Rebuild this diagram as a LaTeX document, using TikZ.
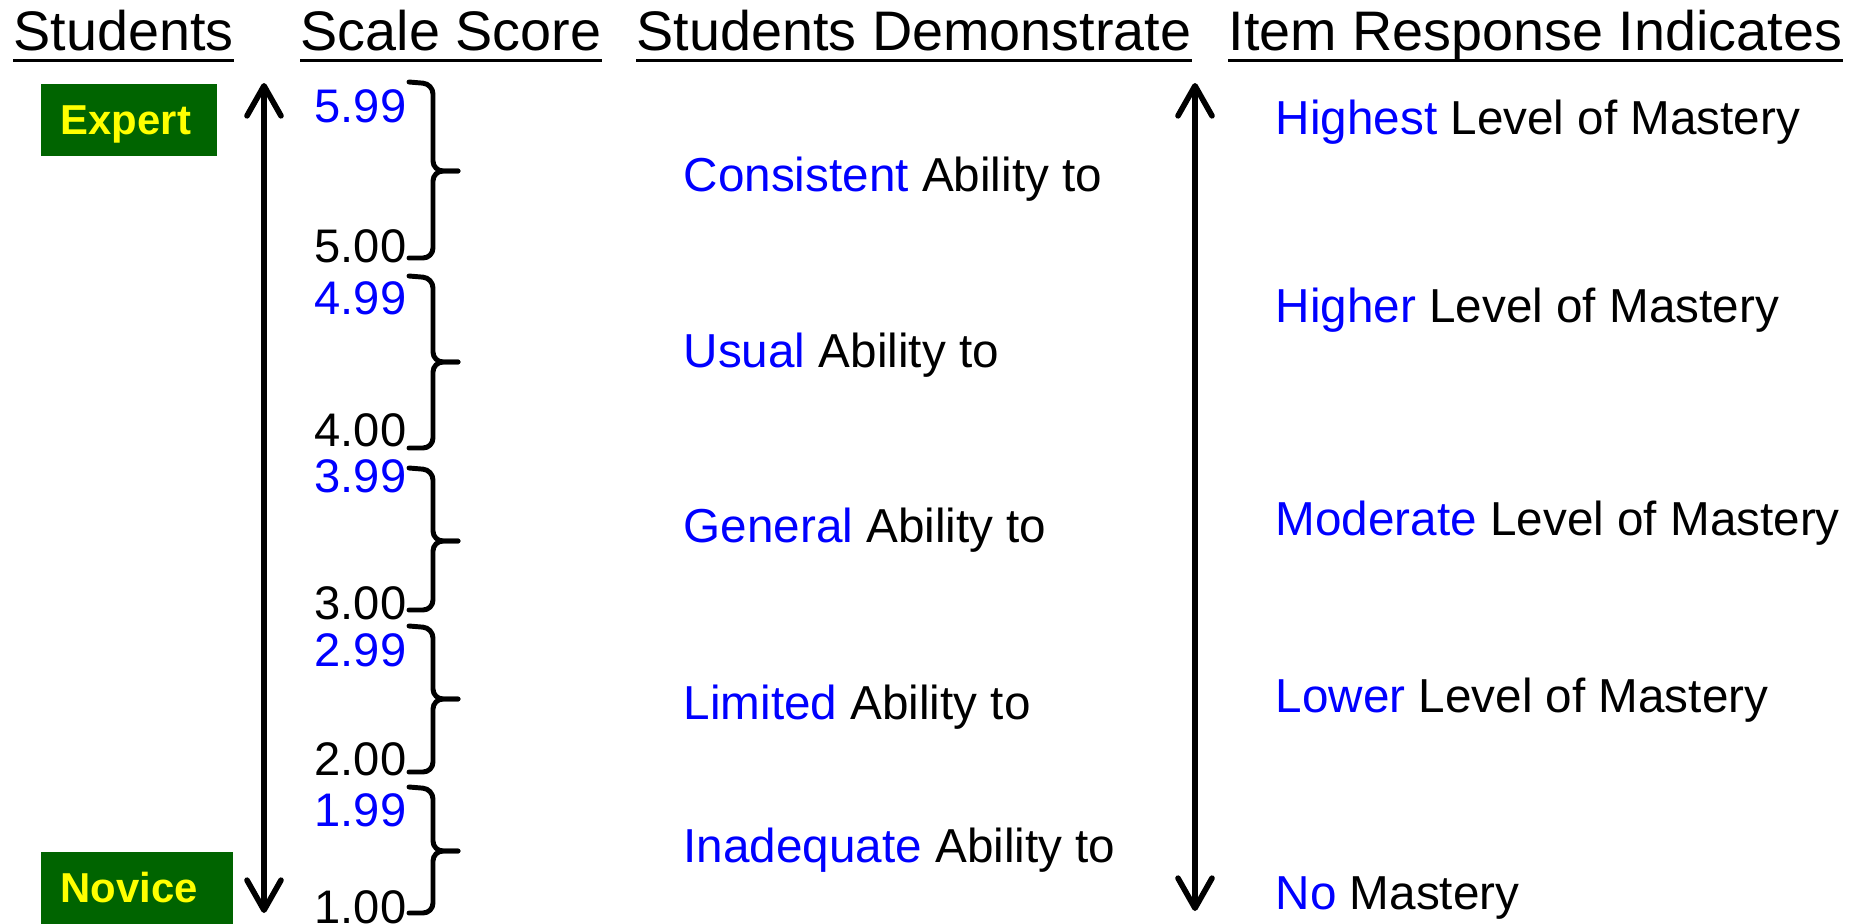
\documentclass[tikz,border=0pt]{standalone}
\usepackage{fontspec}
\setmainfont{Liberation Sans}
\usetikzlibrary{arrows.meta}
\definecolor{levelblue}{RGB}{0,0,255}
\definecolor{boxgreen}{RGB}{0,100,0}
\definecolor{boxyellow}{RGB}{255,255,0}

\begin{document}
\begin{tikzpicture}[x=0.01cm,y=-0.01cm,
  header/.style={anchor=base west,inner sep=0pt,font=\fontsize{15.85}{18}\selectfont},
  underline/.style={line width=0.03cm},
  leveltext/.style={anchor=base west,inner sep=0pt,font=\fontsize{13.55}{16}\selectfont},
  score/.style={anchor=base east,inner sep=0pt,font=\fontsize{13.4}{16}\selectfont},
  levelbox/.style={fill=boxgreen,text=boxyellow,font=\fontsize{11.9}{14}\selectfont\bfseries,
    anchor=north west,minimum height=0.72cm,inner xsep=0.2cm,inner ysep=0pt,
    text height=0.3cm,text depth=0pt,align=left},
  scalearrow/.style={line width=1.6pt,
    {Straight Barb[length=3mm,width=3.4mm,round]}-{Straight Barb[length=3mm,width=3.4mm,round]}},
  scorebrace/.style={line width=1.4pt,rounded corners=0.1cm,line cap=round}]
\useasboundingbox (0,0) rectangle (1860,924);

\node[header] (hstudents) at (13,51) {Students};
\node[header] (hscale) at (300,51) {Scale Score};
\node[header] (hdemo) at (636,51) {Students Demonstrate};
\node[header] (hitem) at (1228,51) {Item Response Indicates};
\draw[underline] ([yshift=-0.09cm]hstudents.base west) -- ([yshift=-0.09cm]hstudents.base east);
\draw[underline] ([yshift=-0.09cm]hscale.base west) -- ([yshift=-0.09cm]hscale.base east);
\draw[underline] ([yshift=-0.09cm]hdemo.base west) -- ([yshift=-0.09cm]hdemo.base east);
\draw[underline] ([yshift=-0.09cm]hitem.base west) -- ([yshift=-0.09cm]hitem.base east);

\node[levelbox,text width=1.36cm] (expert) at (40,83) {Expert};
\node[levelbox,text width=1.52cm] (novice) at (40,851) {Novice};

\coordinate (ltop) at (264,83);
\coordinate (lbot) at (264,913);
\coordinate (rtop) at (1195,83);
\coordinate (rbot) at (1195,911);
\draw[scalearrow] (ltop) -- (lbot);
\draw[scalearrow] (rtop) -- (rbot);

\draw[scorebrace] (409,82) -- (433,84) -- (433,171) -- (458,171);
\draw[scorebrace] (458,171) -- (433,171) -- (433,258) -- (409,258);
\draw[scorebrace] (409,276) -- (433,278) -- (433,362) -- (458,362);
\draw[scorebrace] (458,362) -- (433,362) -- (433,448) -- (409,448);
\draw[scorebrace] (409,468) -- (433,470) -- (433,541) -- (458,541);
\draw[scorebrace] (458,541) -- (433,541) -- (433,610) -- (409,610);
\draw[scorebrace] (409,626) -- (433,628) -- (433,699) -- (458,699);
\draw[scorebrace] (458,699) -- (433,699) -- (433,772) -- (409,772);
\draw[scorebrace] (409,787) -- (433,789) -- (433,851) -- (458,851);
\draw[scorebrace] (458,851) -- (433,851) -- (433,913) -- (409,913);

\node[score,text=levelblue] (s599) at (407,123) {5.99};
\node[score] (s500) at (407,262) {5.00};
\node[score,text=levelblue] (s499) at (407,314) {4.99};
\node[score] (s400) at (407,446) {4.00};
\node[score,text=levelblue] (s399) at (407,492) {3.99};
\node[score] (s300) at (407,619) {3.00};
\node[score,text=levelblue] (s299) at (407,666) {2.99};
\node[score] (s200) at (407,775) {2.00};
\node[score,text=levelblue] (s199) at (407,826) {1.99};
\node[score] (s100) at (407,923) {1.00};

\node[leveltext] (consistent) at (683,191) {\textcolor{levelblue}{Consistent} Ability to};
\node[leveltext] (usual) at (683,367) {\textcolor{levelblue}{Usual} Ability to};
\node[leveltext] (general) at (683,542) {\textcolor{levelblue}{General} Ability to};
\node[leveltext] (limited) at (683,719) {\textcolor{levelblue}{Limited} Ability to};
\node[leveltext] (inadequate) at (683,862) {\textcolor{levelblue}{Inadequate} Ability to};

\node[leveltext] (highest) at (1275,134) {\textcolor{levelblue}{Highest} Level of Mastery};
\node[leveltext] (higher) at (1275,322) {\textcolor{levelblue}{Higher} Level of Mastery};
\node[leveltext] (moderate) at (1275,535) {\textcolor{levelblue}{Moderate} Level of Mastery};
\node[leveltext] (lower) at (1275,712) {\textcolor{levelblue}{Lower} Level of Mastery};
\node[leveltext] (nomastery) at (1275,909) {\textcolor{levelblue}{No} Mastery};
\end{tikzpicture}
\end{document}
